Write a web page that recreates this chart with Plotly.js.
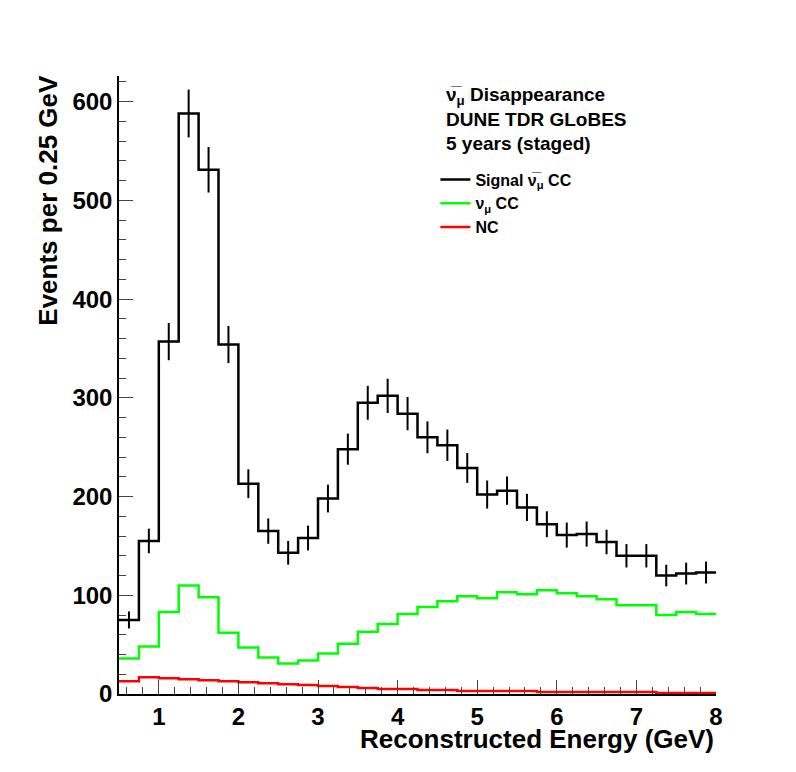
<!DOCTYPE html>
<html><head><meta charset="utf-8">
<script src="https://cdn.plot.ly/plotly-3.0.1.min.js"></script>
<style>body{margin:0;background:#fff}</style>
</head><body>
<div id="plot" style="width:796px;height:772px"></div>
<script>
// bin edges 0.5 .. 8.0 in 0.25 GeV steps
var edges = [0.5,0.75,1,1.25,1.5,1.75,2,2.25,2.5,2.75,3,3.25,3.5,3.75,4,4.25,4.5,4.75,5,5.25,5.5,5.75,6,6.25,6.5,6.75,7,7.25,7.5,7.75,8];
var signal = [75,155,357,588,531,354,213,165,143,158,198,248,295,302,284,260,252,229,202,206,189,172,161,162,154,140,140,120,122,123];
var numu = [36,48,83,110,98,62,47,37,31,34,41,51,63,71,81,88,94,99,97,103,101,105,102,99,96,90,90,80,83,81];
var nc = [13,17,16,15,14,13,12,11,10,9,8,7,6,5,5,4,4,3,3,3,3,2,2,2,2,2,2,1,1,1];

function step(vals){ return vals.concat([vals[vals.length-1]]); }
var centers = signal.map(function(v,i){ return (edges[i]+edges[i+1])/2; });
var errs = signal.map(function(v){ return Math.sqrt(v); });

var data = [
  {x: edges, y: step(signal), mode: 'lines', line: {shape: 'hv', color: 'black', width: 2.5}, name: 'Signal ν\u0305<sub>μ</sub> CC'},
  {x: edges, y: step(numu), mode: 'lines', line: {shape: 'hv', color: '#00ff00', width: 2.5}, name: 'ν<sub>μ</sub> CC'},
  {x: edges, y: step(nc), mode: 'lines', line: {shape: 'hv', color: '#ff0000', width: 2.5}, name: 'NC'},
  {x: centers, y: signal, mode: 'markers', marker: {size: 1, color: 'black'}, showlegend: false,
   error_y: {type: 'data', array: errs, visible: true, color: 'black', thickness: 2, width: 0}}
];

var f = {family: 'Liberation Sans, Arial', color: 'black', size: 24, weight: 'bold'};
var layout = {
  width: 796, height: 772,
  margin: {l: 119, r: 80, t: 76, b: 78},
  paper_bgcolor: 'white', plot_bgcolor: 'white',
  font: f,
  showlegend: true,
  legend: {x: 0.53, y: 0.86, xanchor: 'left', yanchor: 'top', bgcolor: 'rgba(0,0,0,0)',
    font: {family: 'Liberation Sans, Arial', size: 16, weight: 'bold', color: 'black'}, tracegroupgap: 0},
  xaxis: {range: [0.5, 8], showgrid: false, zeroline: false, showline: true, linecolor: 'black', linewidth: 1.5,
    ticks: 'inside', ticklen: 14, tickwidth: 1.2, dtick: 1, tick0: 0,
    minor: {ticks: 'inside', ticklen: 7, dtick: 0.2, tick0: 0}, tickfont: f},
  yaxis: {range: [0, 626], showgrid: false, zeroline: false, showline: true, linecolor: 'black', linewidth: 1.5,
    ticks: 'inside', ticklen: 14, tickwidth: 1.2, dtick: 100,
    minor: {ticks: 'inside', ticklen: 7, dtick: 20}, tickfont: f},
  annotations: [
    {xref: 'paper', yref: 'paper', x: 1, y: -0.045, xanchor: 'right', yanchor: 'top', showarrow: false,
     text: 'Reconstructed Energy (GeV)', font: {family: 'Liberation Sans, Arial', size: 26, weight: 'bold'}},
    {xref: 'paper', yref: 'paper', x: -0.09, y: 1.005, xanchor: 'right', yanchor: 'top', showarrow: false, textangle: -90,
     text: 'Events per 0.25 GeV', font: {family: 'Liberation Sans, Arial', size: 26, weight: 'bold'}},
    {xref: 'paper', yref: 'paper', x: 0.545, y: 0.99, xanchor: 'left', yanchor: 'top', showarrow: false, align: 'left',
     text: 'ν\u0305<sub>μ</sub> Disappearance<br>DUNE TDR GLoBES<br>5 years (staged)',
     font: {family: 'Liberation Sans, Arial', size: 19, weight: 'bold'}}
  ]
};
Plotly.newPlot('plot', data, layout, {displayModeBar: false});
</script>
</body></html>
